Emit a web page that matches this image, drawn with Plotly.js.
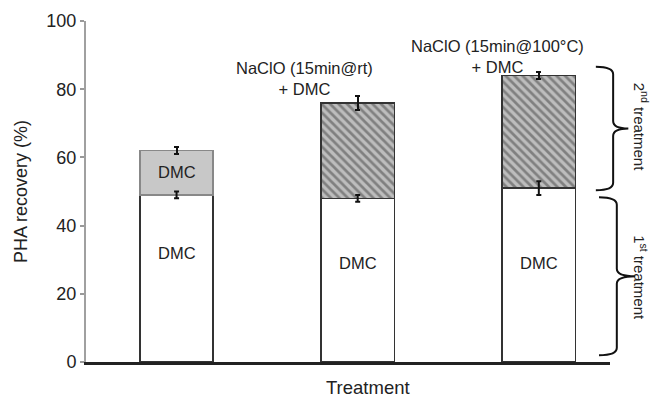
<!DOCTYPE html>
<html>
<head>
<meta charset="utf-8">
<script src="https://cdn.plot.ly/plotly-3.0.1.min.js"></script>
<style>html,body{margin:0;padding:0;background:#fff;}#chart{width:652px;height:402px;}</style>
</head>
<body>
<div id="chart"></div>
<script>
// Data
var categories = [0, 1, 2];
var firstTreatment = [49, 48, 51];
var firstErr = [1, 1, 2];
var secondTreatment = [13, 28, 33];   // stacked segment (totals 62, 76, 84)
var secondErr = [1, 2, 1];
var firstLabels = ["DMC", "DMC", "DMC"];
var secondLabels = ["DMC", "NaClO (15min@rt)<br>+ DMC", "NaClO (15min@100°C)<br>+ DMC"];
var yTicks = [0, 20, 40, 60, 80, 100];
var braceRanges = [[2, 48.3], [50.4, 86.6]];
var braceLabels = ["1<sup>st</sup> treatment", "2<sup>nd</sup> treatment"];

var FONT = "Liberation Sans, Arial, sans-serif";

var trace1 = {
  type: "bar", x: categories, y: firstTreatment, width: 0.404,
  marker: {color: "#ffffff", line: {color: "#333333", width: 1.5}},
  hoverinfo: "none", showlegend: false
};
var trace2 = {
  type: "bar", x: categories, y: secondTreatment, width: 0.404,
  marker: {
    color: ["#c8c8c8", "#bdbdbd", "#bdbdbd"],
    line: {color: ["#888888", "#333333", "#333333"], width: 1.5},
    pattern: {shape: ["", "\\", "\\"], fgcolor: "#1e1e1e", size: 6, solidity: 0.45, fillmode: "overlay"}
  },
  error_y: {type: "data", array: secondErr, visible: true, color: "#111", thickness: 2, width: 2.5},
  hoverinfo: "none", showlegend: false
};
// error bars of the first treatment, drawn above the stacked bars
var trace3 = {
  type: "scatter", mode: "markers", x: categories, y: firstTreatment,
  marker: {size: 1, color: "rgba(0,0,0,0)"},
  error_y: {type: "data", array: firstErr, visible: true, color: "#111", thickness: 2, width: 2.5},
  hoverinfo: "none", showlegend: false
};

function bracePath(y0, y1, xl, xs, xc) {
  var ym = (y0 + y1) / 2, r = 2.2;
  return "M" + xl + "," + y1 + " Q" + xs + "," + y1 + " " + xs + "," + (y1 - r) +
    " L" + xs + "," + (ym + r) + " Q" + xs + "," + ym + " " + xc + "," + ym +
    " Q" + xs + "," + ym + " " + xs + "," + (ym - r) +
    " L" + xs + "," + (y0 + r) + " Q" + xs + "," + y0 + " " + xl + "," + y0;
}

var shapes = [
  {type: "path", xref: "paper", yref: "y", path: bracePath(braceRanges[0][0], braceRanges[0][1], 0.979, 1.013, 1.048), line: {color: "#111", width: 2}},
  {type: "path", xref: "paper", yref: "y", path: bracePath(braceRanges[1][0], braceRanges[1][1], 0.973, 1.006, 1.035), line: {color: "#111", width: 2}}
];

var annotations = [
  {x: 0, y: 32, xref: "x", yref: "y", text: firstLabels[0], showarrow: false, font: {family: FONT, size: 16.5, color: "#222"}},
  {x: 1, y: 29, xref: "x", yref: "y", text: firstLabels[1], showarrow: false, font: {family: FONT, size: 16.5, color: "#222"}},
  {x: 2, y: 29, xref: "x", yref: "y", text: firstLabels[2], showarrow: false, font: {family: FONT, size: 16.5, color: "#222"}},
  {x: 0, y: 55.8, xref: "x", yref: "y", text: secondLabels[0], showarrow: false, font: {family: FONT, size: 16.5, color: "#222"}},
  {x: 0.705, y: 83, xref: "x", yref: "y", text: secondLabels[1], showarrow: false, font: {family: FONT, size: 16.5, color: "#222"}},
  {x: 1.773, y: 89.7, xref: "x", yref: "y", text: secondLabels[2], showarrow: false, font: {family: FONT, size: 16.5, color: "#222"}},
  {x: 1.081, y: 24.6, xref: "paper", yref: "y", text: braceLabels[0], textangle: 90, showarrow: false, font: {family: FONT, size: 15, color: "#222"}},
  {x: 1.081, y: 69, xref: "paper", yref: "y", text: braceLabels[1], textangle: 90, showarrow: false, font: {family: FONT, size: 15, color: "#222"}},
  {x: 0.538, y: -0.075, xref: "paper", yref: "paper", yanchor: "middle", text: "Treatment", showarrow: false, font: {family: FONT, size: 18.5, color: "#222"}}
];

var layout = {
  width: 652, height: 402,
  margin: {l: 86, r: 42, t: 21, b: 40},
  paper_bgcolor: "#ffffff", plot_bgcolor: "#ffffff",
  barmode: "stack",
  font: {family: FONT, color: "#222"},
  xaxis: {range: [-0.5, 2.393], showticklabels: false, ticks: "", showgrid: false, zeroline: false,
          showline: true, linecolor: "#222", linewidth: 2.5},
  yaxis: {range: [0, 100], tickvals: yTicks, ticks: "outside", ticklen: 4, tickcolor: "#999", tickwidth: 2,
          showline: true, linecolor: "#a0a0a0", linewidth: 2, showgrid: false, zeroline: false,
          tickfont: {family: FONT, size: 18, color: "#222"},
          title: {text: "PHA recovery (%)", font: {family: FONT, size: 18, color: "#222"}, standoff: 14}},
  shapes: shapes,
  annotations: annotations
};

Plotly.newPlot("chart", [trace1, trace2, trace3], layout, {displayModeBar: false, staticPlot: true});
</script>
</body>
</html>
